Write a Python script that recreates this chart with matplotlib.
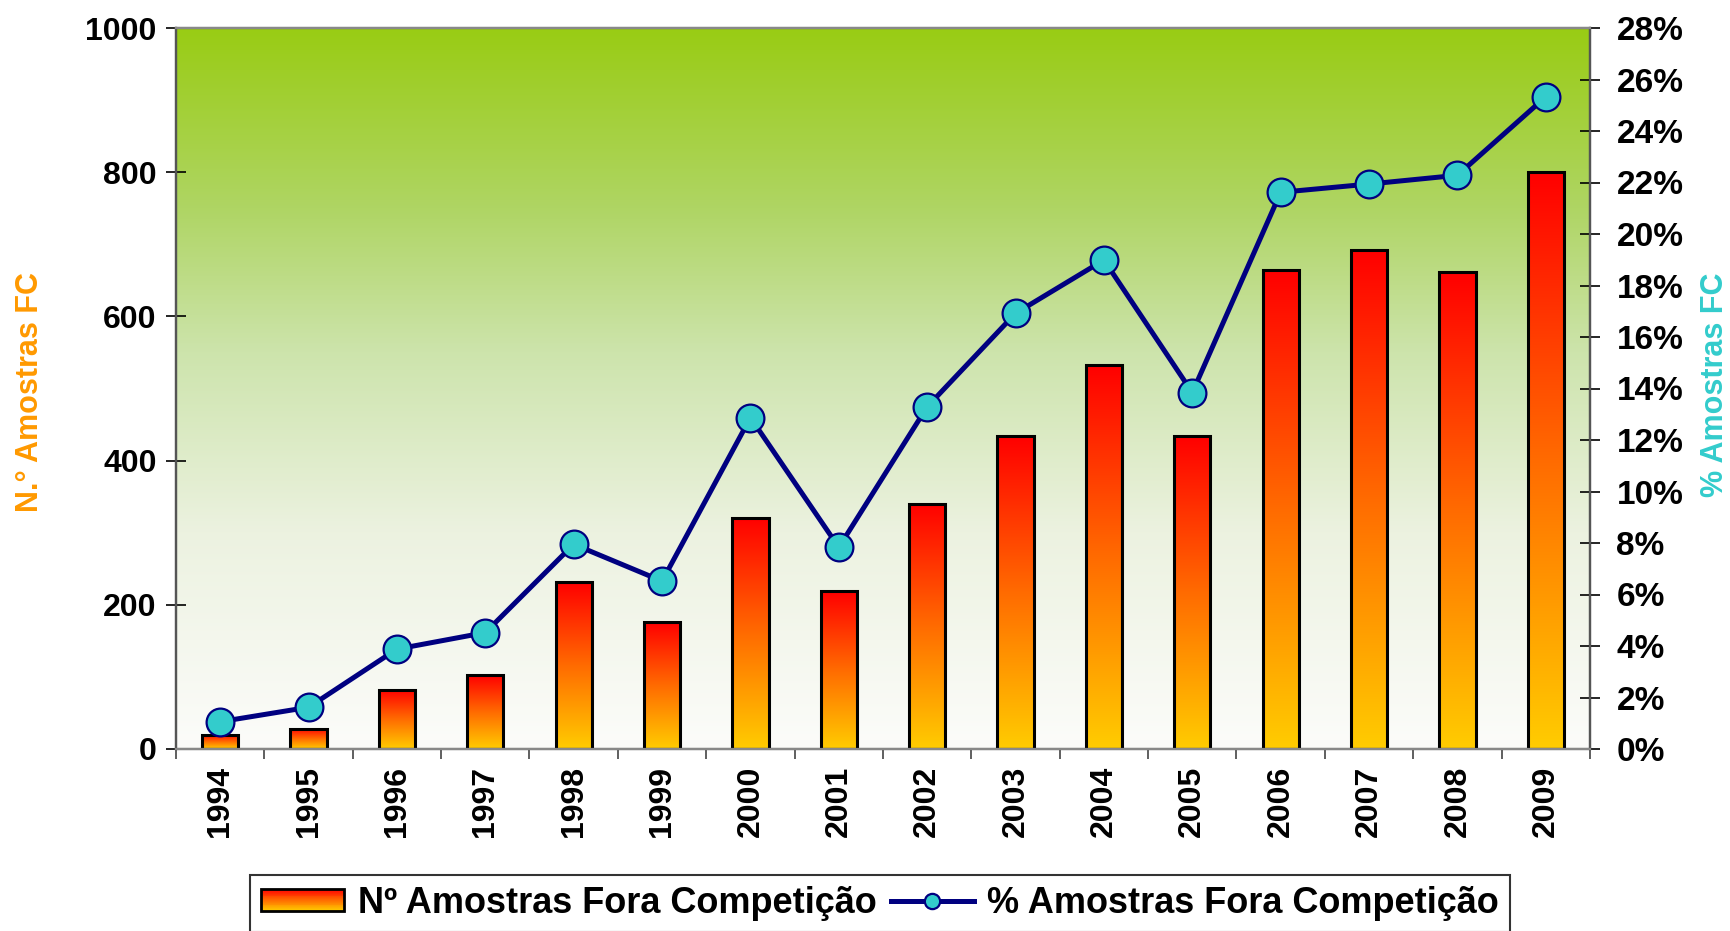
import numpy as np
import matplotlib
matplotlib.use('Agg')
import matplotlib.pyplot as plt
from matplotlib.colors import LinearSegmentedColormap
from matplotlib.lines import Line2D
from matplotlib.patches import Rectangle
from matplotlib.legend_handler import HandlerBase
from matplotlib.ticker import FixedLocator

# ---- data ----
years = ['1994', '1995', '1996', '1997', '1998', '1999', '2000', '2001',
         '2002', '2003', '2004', '2005', '2006', '2007', '2008', '2009']
samples = [20, 28, 82, 102, 231, 176, 321, 219, 340, 434, 532, 434, 664, 692, 661, 800]
percent = [1.06, 1.62, 3.88, 4.52, 7.95, 6.52, 12.87, 7.83, 13.29, 16.92, 18.99,
           13.84, 21.62, 21.94, 22.28, 25.33]
left_ticks = [0, 200, 400, 600, 800, 1000]
right_ticks = list(range(0, 29, 2))
label_bar = 'Nº Amostras Fora Competição'
label_line = '% Amostras Fora Competição'
ylabel_left = 'N.° Amostras FC'
ylabel_right = '% Amostras FC'

plt.rcParams['font.family'] = ['Liberation Sans', 'DejaVu Sans']
plt.rcParams['font.weight'] = 'bold'

W, H = 1731, 931
fig = plt.figure(figsize=(W / 100, H / 100), dpi=100)
L, R, T, B = 176, 1590, 28, 749
ax = fig.add_axes([L / W, 1 - B / H, (R - L) / W, (B - T) / H])
ax2 = ax.twinx()

# background gradient (green top -> white bottom)
bg_cmap = LinearSegmentedColormap.from_list('bg', [
    (0.0, (153/255, 204/255, 20/255)),
    (0.25, (175/255, 213/255, 100/255)),
    (0.45, (205/255, 228/255, 172/255)),
    (0.7, (236/255, 242/255, 224/255)),
    (1.0, (252/255, 252/255, 250/255)),
])
grad = np.linspace(0, 1, 256).reshape(-1, 1)
ax.imshow(grad, cmap=bg_cmap, extent=[0, 1, 0, 1], transform=ax.transAxes,
          aspect='auto', origin='upper', zorder=0)
ax.patch.set_visible(False)

# bars with vertical gradient gold (bottom) -> red (top)
bar_cmap = LinearSegmentedColormap.from_list('bar', [
    (0.0, (1.0, 0.80, 0.0)), (0.5, (1.0, 0.42, 0.0)), (1.0, (1.0, 0.0, 0.0))])
x = np.arange(len(years))
bars = ax.bar(x, samples, width=0.41, facecolor='none', edgecolor='black',
              linewidth=2.2, zorder=3)
bgrad = np.linspace(1, 0, 256).reshape(-1, 1)
for b in bars:
    ax.imshow(bgrad, cmap=bar_cmap, vmin=0, vmax=1, aspect='auto', origin='upper',
              extent=[b.get_x(), b.get_x() + b.get_width(), 0, b.get_height()],
              zorder=2, interpolation='bilinear')

ax.set_xlim(-0.5, len(years) - 0.5)
ax.set_ylim(0, 1000)
ax2.set_ylim(0, 28)

# line
ax2.plot(x, percent, color='#000080', linewidth=3.6, marker='o', markersize=20,
         markerfacecolor='#33CCCC', markeredgecolor='#000080', markeredgewidth=1.6,
         zorder=5)

# ticks
ax.set_xticks(x)
ax.set_xticklabels(years, rotation=90, fontsize=23, fontweight='bold')
ax.tick_params(axis='x', which='major', length=0, pad=12)
ax.xaxis.set_minor_locator(FixedLocator(np.arange(-0.5, len(years), 1.0)))
ax.tick_params(axis='x', which='minor', length=7, width=1.2, direction='out', color='#444444')

ax.set_yticks(left_ticks)
ax.set_yticklabels([str(v) for v in left_ticks], fontsize=23, fontweight='bold')
ax.tick_params(axis='y', direction='inout', length=14, width=1.2, pad=7)

ax2.set_yticks(right_ticks)
ax2.set_yticklabels([f'{v}%' for v in right_ticks], fontsize=24, fontweight='bold')
ax2.tick_params(axis='y', direction='inout', length=14, width=1.2, pad=12)

for a in (ax, ax2):
    for s in a.spines.values():
        s.set_color('#555555')
        s.set_linewidth(1.6)
ax2.spines['top'].set_color('#888888')
ax2.spines['bottom'].set_color('#888888')

# axis titles
ax.text(-0.1033, 0.495, ylabel_left, transform=ax.transAxes, rotation=90,
        ha='center', va='center', color='#FF9900', fontsize=22, fontweight='bold')
ax.text(1.0884, 0.505, ylabel_right, transform=ax.transAxes, rotation=90,
        ha='center', va='center', color='#33CCCC', fontsize=22, fontweight='bold')


# legend with gradient patch
class GradientHandler(HandlerBase):
    def create_artists(self, legend, orig_handle, xdescent, ydescent, width,
                       height, fontsize, trans):
        n = 24
        arts = []
        for i in range(n):
            c = bar_cmap((i + 0.5) / n)
            arts.append(Rectangle((-xdescent, -ydescent + height * i / n), width,
                                  height / n + 0.3, facecolor=c, edgecolor='none',
                                  transform=trans))
        arts.append(Rectangle((-xdescent, -ydescent), width, height, facecolor='none',
                              edgecolor='black', linewidth=2, transform=trans))
        return arts


proxy_bar = Rectangle((0, 0), 1, 1)
proxy_line = Line2D([], [], color='#000080', linewidth=3.6, marker='o', markersize=11,
                    markerfacecolor='#33CCCC', markeredgecolor='#000080',
                    markeredgewidth=1.6)
leg = fig.legend(handles=[proxy_bar, proxy_line], labels=[label_bar, label_line],
                 loc='upper center', bbox_to_anchor=(880 / W, 1 - 875 / H), ncol=2,
                 frameon=True, fancybox=False, framealpha=1, edgecolor='#333333',
                 prop={'size': 26, 'weight': 'bold'}, handlelength=2.3,
                 handleheight=0.55, handletextpad=0.37, columnspacing=0.4,
                 borderpad=0.3, borderaxespad=0, numpoints=1,
                 handler_map={proxy_bar: GradientHandler()})
leg.get_frame().set_linewidth(1.5)

fig.savefig('out.png', dpi=100)
